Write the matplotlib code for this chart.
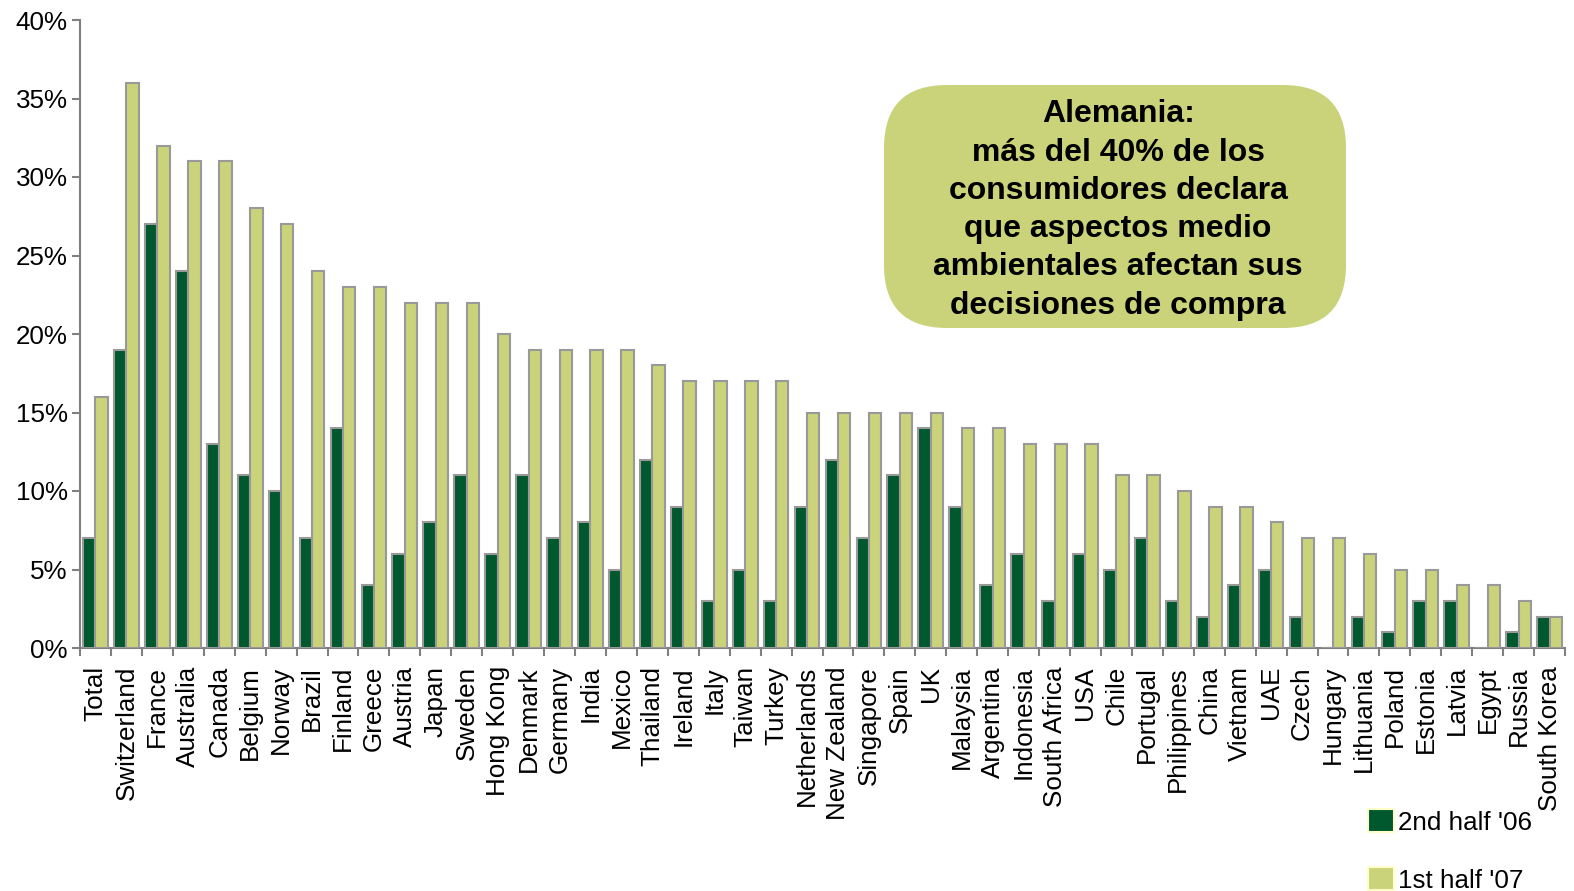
import matplotlib
matplotlib.use("Agg")
import matplotlib.pyplot as plt
import numpy as np
from matplotlib.patches import FancyBboxPatch, Patch

plt.rcParams['font.family'] = ['Liberation Sans', 'DejaVu Sans']

countries = ["Total", "Switzerland", "France", "Australia", "Canada", "Belgium", "Norway",
             "Brazil", "Finland", "Greece", "Austria", "Japan", "Sweden", "Hong Kong",
             "Denmark", "Germany", "India", "Mexico", "Thailand", "Ireland", "Italy",
             "Taiwan", "Turkey", "Netherlands", "New Zealand", "Singapore", "Spain", "UK",
             "Malaysia", "Argentina", "Indonesia", "South Africa", "USA", "Chile",
             "Portugal", "Philippines", "China", "Vietnam", "UAE", "Czech", "Hungary",
             "Lithuania", "Poland", "Estonia", "Latvia", "Egypt", "Russia", "South Korea"]
half2_06 = [7, 19, 27, 24, 13, 11, 10, 7, 14, 4, 6, 8, 11, 6, 11, 7, 8, 5, 12, 9, 3,
            5, 3, 9, 12, 7, 11, 14, 9, 4, 6, 3, 6, 5, 7, 3, 2, 4, 5, 2, 0, 2, 1, 3, 3,
            0, 1, 2]
half1_07 = [16, 36, 32, 31, 31, 28, 27, 24, 23, 23, 22, 22, 22, 20, 19, 19, 19, 19, 18,
            17, 17, 17, 17, 15, 15, 15, 15, 15, 14, 14, 13, 13, 13, 11, 11, 10, 9, 9, 8,
            7, 7, 6, 5, 5, 4, 4, 3, 2]
yticks = [0, 5, 10, 15, 20, 25, 30, 35, 40]
series_labels = ["2nd half '06", "1st half '07"]
note_text = ("Alemania:\nmás del 40% de los\nconsumidores declara\n"
             "que aspectos medio\nambientales afectan sus\ndecisiones de compra")

dark = "#00582e"
light = "#cbd37a"
edge = "#999999"

fig = plt.figure(figsize=(15.74, 8.91), dpi=100)
ax = fig.add_axes([80/1574, 1-648/891, (1565-80)/1574, (648-20)/891])

x = np.arange(len(countries))
w = 0.4
ax.bar(x - w/2, half2_06, width=w, color=dark, edgecolor=edge, linewidth=1.5, zorder=3)
ax.bar(x + w/2, half1_07, width=w, color=light, edgecolor=edge, linewidth=1.5, zorder=3)

ax.set_xlim(-0.5, len(countries) - 0.5)
ax.set_ylim(0, 40)
ax.set_yticks(yticks)
ax.set_yticklabels([f"{v}%" for v in yticks], fontsize=18.7)
ax.set_xticks(x)
ax.set_xticklabels(countries, rotation=90, fontsize=18.7)
ax.tick_params(axis='x', length=0, pad=13)
ax.set_xticks(np.arange(-0.5, len(countries), 1), minor=True)
ax.tick_params(axis='x', which='minor', length=6, color='#808080', width=1.5)
ax.tick_params(axis='y', length=6, color='#808080', width=1.5, pad=3)

for s in ['top', 'right']:
    ax.spines[s].set_visible(False)
for s in ['left', 'bottom']:
    ax.spines[s].set_color('#808080')
    ax.spines[s].set_linewidth(1.5)

# annotation box
bx0, by0, bx1, by1 = 884/1574, 1-328/891, 1346/1574, 1-85/891
box = FancyBboxPatch((bx0, by0), bx1-bx0, by1-by0,
                     boxstyle="round,pad=0,rounding_size=0.04",
                     transform=fig.transFigure, facecolor=light, edgecolor='none',
                     mutation_aspect=1574/891, zorder=5)
fig.patches.append(box)
fig.text((bx0+bx1)/2 + 0.002, (by0+by1)/2 - 0.004, note_text, ha='center', va='center',
         fontsize=23, fontweight='bold', linespacing=1.36, zorder=6)

handles = [Patch(facecolor=dark, edgecolor='#ffffcc', linewidth=1.5),
           Patch(facecolor=light, edgecolor='#ffffcc', linewidth=1.5)]
fig.legend(handles, series_labels, loc='upper left',
           bbox_to_anchor=(1350/1574, 1-791/891), frameon=False, fontsize=18.7,
           handlelength=1.0, handleheight=1.0, handletextpad=0.15, labelspacing=1.25,
           borderpad=0.2)

fig.savefig("out.png", dpi=100)
